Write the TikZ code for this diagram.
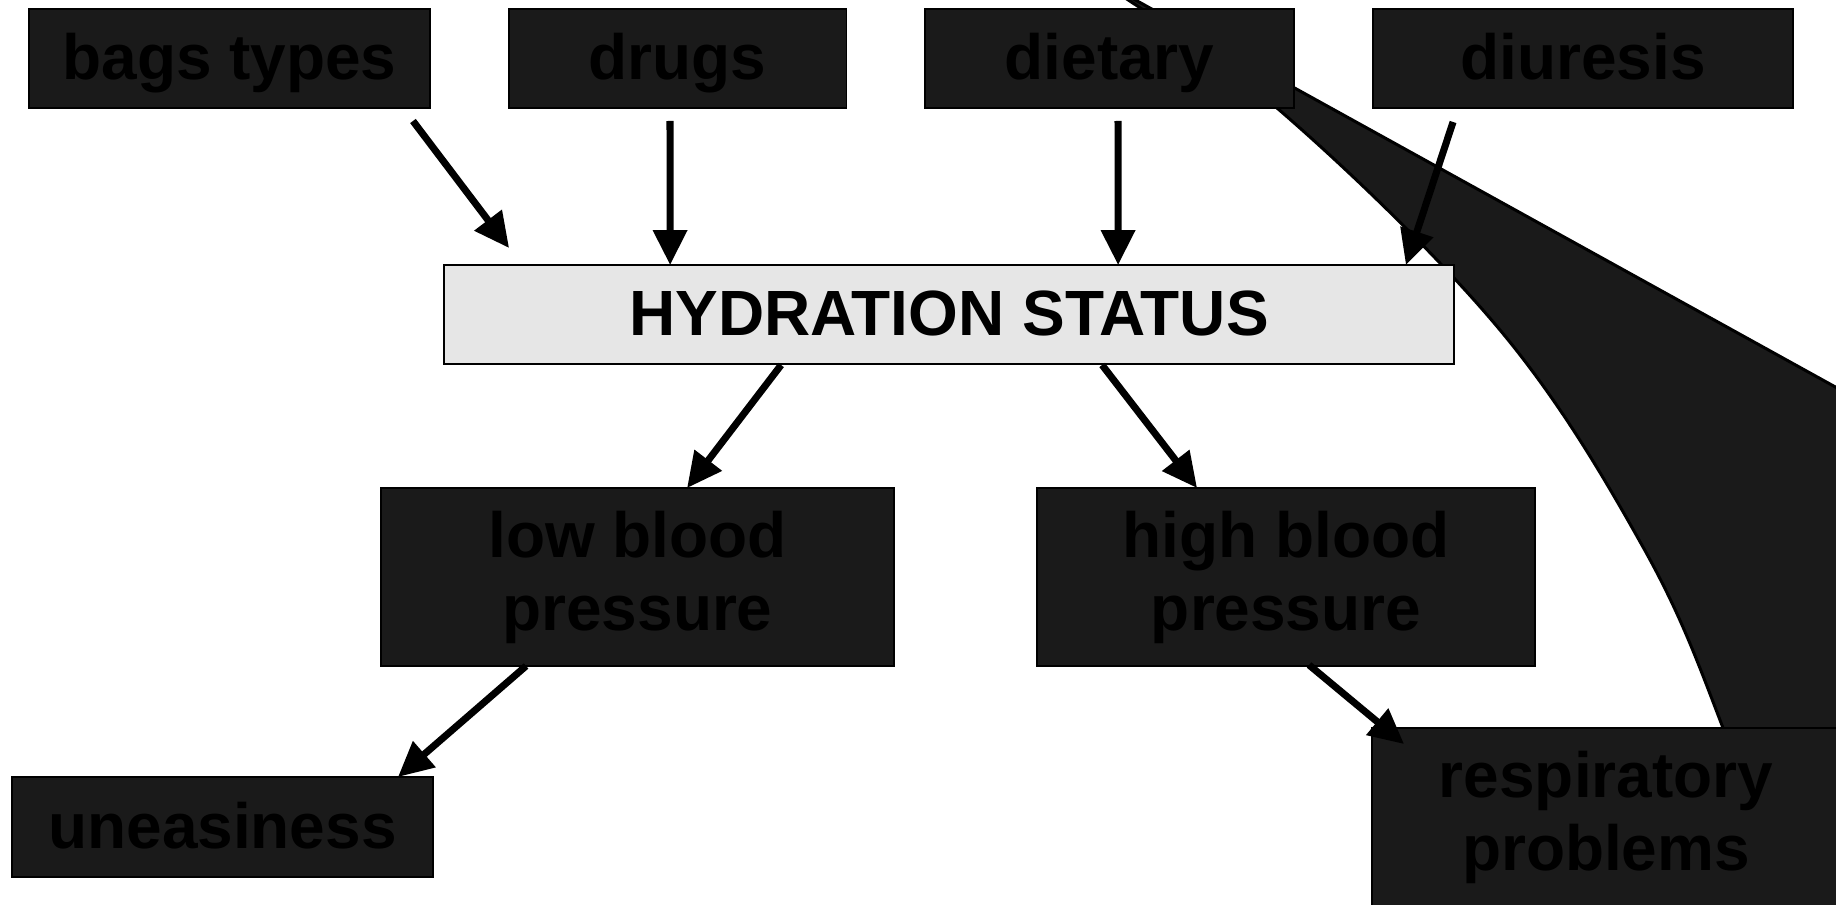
\documentclass[tikz,border=0pt]{standalone}
\usepackage{fontspec}
\setmainfont{Liberation Sans}
\usetikzlibrary{arrows.meta}
\definecolor{boxfill}{HTML}{1A1A1A}
\definecolor{hydfill}{HTML}{E6E6E6}
\begin{document}
\begin{tikzpicture}[x=0.02cm,y=-0.02cm,
  basebox/.style={draw=black, line width=1.1pt, align=center, inner sep=0pt, outer sep=0pt,
    font=\fontsize{36.4}{41.5}\selectfont\bfseries, text=black},
  dbox/.style={basebox, fill=boxfill},
  oneline/.style={text height=25pt, text depth=1pt},
  twoline/.style={yshift=-1.5pt},
  hydbox/.style={basebox, fill=hydfill},
  arr/.style={line width=4pt, line cap=butt, -{Triangle[length=0.7cm,width=0.66cm]}},
  wedge/.style={fill=boxfill, draw=black, line width=1.7pt, line join=round}
]
\useasboundingbox (0,0) rectangle (1836,904);
\fill[white] (0,0) rectangle (1836,904);
% big curved wedge
\begin{scope}
\clip (0,0) rectangle (1836,904);
\path[wedge] (1083,-29) -- (2000,478) -- (2000,950) -- plot[smooth, tension=0.6] coordinates {(1797,950) (1723,728) (1643,547) (1500,330) (1277,108) (1083,-29)} -- cycle;
\end{scope}
% boxes
\node[dbox, oneline, minimum width=8.02cm, minimum height=1.98cm] (bags) at (229.5,58.5) {bags types};
\node[dbox, oneline, minimum width=6.76cm, minimum height=1.98cm] (drugs) at (677.5,58.5) {drugs};
\node[dbox, oneline, minimum width=7.38cm, minimum height=1.98cm] (diet) at (1109.5,58.5) {dietary};
\node[dbox, oneline, minimum width=8.4cm, minimum height=1.98cm] (diur) at (1583,58.5) {diuresis};
\node[hydbox, oneline, minimum width=20.2cm, minimum height=1.98cm] (hyd) at (949,314.5) {HYDRATION STATUS};
\node[dbox, minimum width=10.26cm, minimum height=3.56cm] (low) at (637.5,577) {low blood\\pressure};
\node[dbox, minimum width=9.96cm, minimum height=3.56cm] (high) at (1286,577) {high blood\\pressure};
\node[dbox, oneline, minimum width=8.42cm, minimum height=2.0cm] (unea) at (222.5,827) {uneasiness};
\node[dbox, minimum width=9.36cm, minimum height=3.56cm] (resp) at (1606,817) {respiratory\\problems};
% arrows
\draw[arr] ([shift={(-17,13)}]bags.south east) -- ([shift={(65,-17)}]hyd.north west);
\draw[arr] ([shift={(-7.5,13)}]drugs.south) -- ([shift={(226,0)}]hyd.north west);
\draw[arr] ([shift={(8.5,13)}]diet.south) -- ([shift={(674,0)}]hyd.north west);
\draw[arr] ([shift={(80,14)}]diur.south west) -- ([shift={(-48,0)}]hyd.north east);
\draw[arr] ([shift={(337,1)}]hyd.south west) -- ([shift={(306,0)}]low.north west);
\draw[arr] ([shift={(658,1)}]hyd.south west) -- ([shift={(160,0)}]high.north west);
\draw[arr] ([shift={(145,0)}]low.south west) -- ([shift={(-35,0)}]unea.north east);
\draw[arr] ([shift={(272,-1)}]high.south west) -- ([shift={(32,16)}]resp.north west);
\end{tikzpicture}
\end{document}
